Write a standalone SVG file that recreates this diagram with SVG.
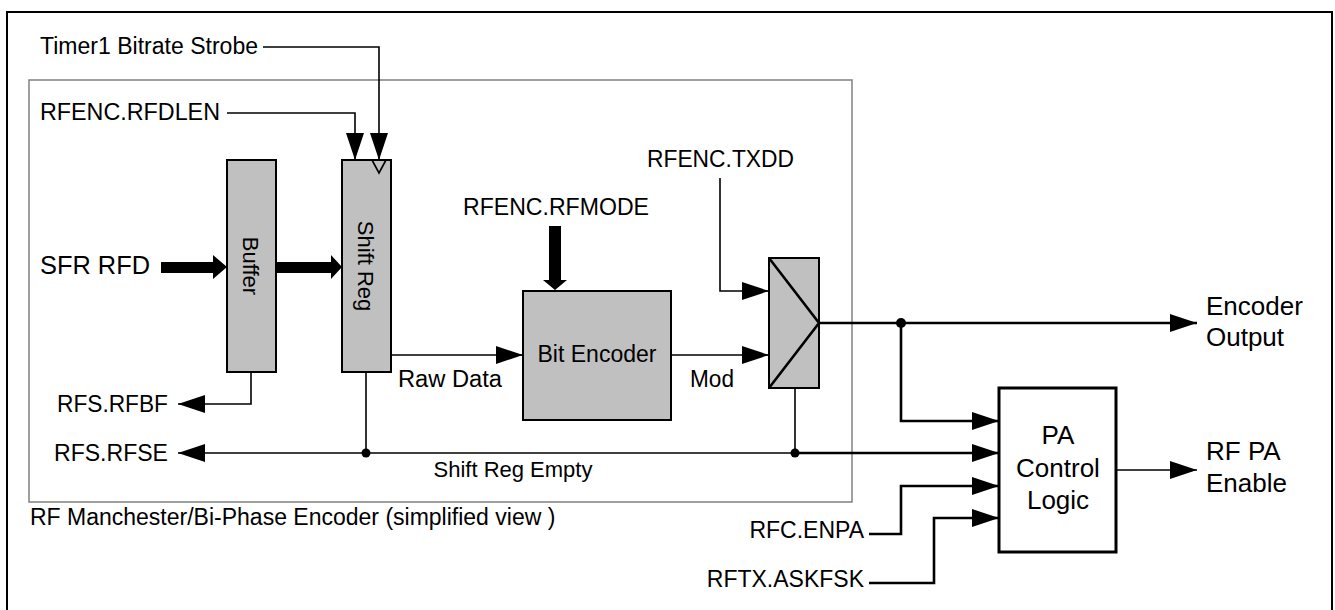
<svg xmlns="http://www.w3.org/2000/svg" width="1335" height="610" viewBox="0 0 1335 610">
<style>
text{font-family:"Liberation Sans",Arial,sans-serif;font-size:23px;fill:#000}
.big{font-size:26px}
.blk{fill:#c0c0c0;stroke:#000;stroke-width:2}
.ln{fill:none;stroke:#000;stroke-width:1.6}
.lnb{fill:none;stroke:#000;stroke-width:2.6}
.mid{text-anchor:middle}
.end{text-anchor:end}
</style>
<defs>
<marker id="ah" markerUnits="userSpaceOnUse" markerWidth="27" markerHeight="18" refX="27" refY="9" orient="auto">
<path d="M0,0 L27,9 L0,18 Z" fill="#000"/>
</marker>
</defs>
<rect width="1335" height="610" fill="#fff"/>
<path d="M7,620 V12 H1332 V620" fill="none" stroke="#000" stroke-width="2"/>
<rect x="29" y="80" width="823" height="422" fill="none" stroke="#808080" stroke-width="1.5"/>
<text x="30" y="525">RF Manchester/Bi-Phase Encoder (simplified view )</text>

<g id="buffer">
<rect class="blk" x="227" y="160" width="49" height="212"/>
<text class="mid" transform="translate(251,266) rotate(90)" y="8" style="font-size:22px">Buffer</text>
</g>
<g id="shiftreg">
<rect class="blk" x="342" y="160" width="49" height="212"/>
<path d="M372,160 L379,173 L386,160" fill="none" stroke="#000" stroke-width="1.6"/>
<text class="mid" transform="translate(366,266) rotate(90)" y="8" style="font-size:22px">Shift Reg</text>
</g>
<g id="bitencoder">
<rect class="blk" x="523" y="291" width="148" height="129"/>
<text class="mid" x="597" y="362" textLength="119" lengthAdjust="spacingAndGlyphs">Bit Encoder</text>
</g>
<g id="mux">
<rect class="blk" x="769" y="258" width="50" height="130"/>
<path d="M769,258 L819,323 L769,388" fill="none" stroke="#000" stroke-width="2.6"/>
</g>
<g id="pacontrol">
<rect x="999" y="388" width="117" height="164" fill="#fff" stroke="#000" stroke-width="3"/>
<text class="mid big" x="1058" y="444">PA</text>
<text class="mid big" x="1058" y="477">Control</text>
<text class="mid big" x="1058" y="509">Logic</text>
</g>

<g id="labels">
<text x="40" y="54" textLength="218" lengthAdjust="spacingAndGlyphs">Timer1 Bitrate Strobe</text>
<text x="40" y="120" textLength="180" lengthAdjust="spacingAndGlyphs">RFENC.RFDLEN</text>
<text x="40" y="274" style="font-size:25px" textLength="110" lengthAdjust="spacingAndGlyphs">SFR RFD</text>
<text x="57" y="412" textLength="111" lengthAdjust="spacingAndGlyphs">RFS.RFBF</text>
<text x="54" y="461" textLength="114" lengthAdjust="spacingAndGlyphs">RFS.RFSE</text>
<text x="463" y="215" textLength="186" lengthAdjust="spacingAndGlyphs">RFENC.RFMODE</text>
<text x="647" y="167" textLength="147" lengthAdjust="spacingAndGlyphs">RFENC.TXDD</text>
<text x="398" y="387" textLength="104" lengthAdjust="spacingAndGlyphs">Raw Data</text>
<text x="690" y="387" textLength="44" lengthAdjust="spacingAndGlyphs">Mod</text>
<text class="mid" x="513" y="477" style="font-size:22px">Shift Reg Empty</text>
<text class="big" x="1206" y="315">Encoder</text>
<text class="big" x="1206" y="346">Output</text>
<text class="big" x="1206" y="460">RF PA</text>
<text class="big" x="1206" y="492">Enable</text>
<text class="end" x="864" y="538">RFC.ENPA</text>
<text class="end" x="864" y="587">RFTX.ASKFSK</text>
</g>

<g id="connectors">
<path class="ln" d="M263,47 H379 V160" marker-end="url(#ah)"/>
<path class="ln" d="M227,113 H355 V160" marker-end="url(#ah)"/>
<polygon points="161,262 213,262 213,255 227,267 213,279 213,273 161,273" fill="#000"/>
<polygon points="276,262 331,262 331,255 342,267 331,279 331,273 276,273" fill="#000"/>
<polygon points="549,226 561,226 561,280 567,280 555,290 543,280 549,280" fill="#000"/>
<path class="ln" d="M251,372 V404 H178" marker-end="url(#ah)"/>
<path class="ln" d="M366,372 V453"/>
<path class="ln" d="M795,453 H178" marker-end="url(#ah)"/>
<path class="lnb" d="M795,453 H999" marker-end="url(#ah)"/>
<path class="ln" d="M795,388 V453"/>
<circle cx="366" cy="453" r="4.5" fill="#000"/>
<circle cx="795" cy="453" r="4.5" fill="#000"/>
<path class="ln" d="M391,355 H523" marker-end="url(#ah)"/>
<path class="ln" d="M671,355 H769" marker-end="url(#ah)"/>
<path class="ln" d="M720,178 V291 H769" marker-end="url(#ah)"/>
<path class="lnb" d="M819,323 H1197" marker-end="url(#ah)"/>
<circle cx="901" cy="323" r="5" fill="#000"/>
<path class="lnb" d="M901,323 V421 H999" marker-end="url(#ah)"/>
<path class="lnb" d="M869,534 H901 V486 H999" marker-end="url(#ah)"/>
<path class="lnb" d="M869,583 H934 V518 H999" marker-end="url(#ah)"/>
<path class="ln" d="M1116,470 H1197" marker-end="url(#ah)"/>
</g>
</svg>
